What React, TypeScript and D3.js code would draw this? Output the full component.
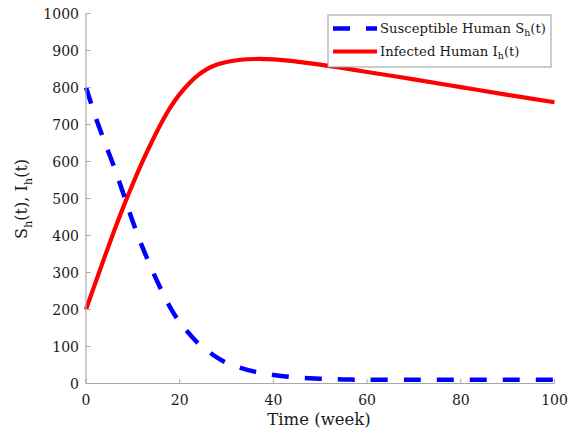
import React from "react";
import * as d3 from "d3";

const timeS = [0, 2, 4, 6, 8, 10, 12, 14, 16, 18, 20, 22, 24, 26, 28, 30, 33, 36, 40, 45, 50, 55, 60, 70, 80, 90, 100];
const susceptible = [800, 722, 652, 585, 512, 437, 370, 310, 255, 205, 165, 135, 108, 88, 70, 56, 42, 32, 23, 16, 13, 11, 10, 10, 10, 10, 10];
const timeI = [0, 2, 4, 6, 8, 10, 12, 14, 16, 18, 20, 22, 24, 26, 28, 30, 33, 36, 40, 45, 50, 55, 60, 70, 80, 90, 100];
const infected = [200, 272, 343, 412, 478, 540, 598, 652, 702, 746, 782, 811, 834, 851, 862, 869, 875, 877, 876, 870, 862, 852, 842, 822, 801, 780, 760];
const xTicks = [0, 20, 40, 60, 80, 100];
const yTicks = [0, 100, 200, 300, 400, 500, 600, 700, 800, 900, 1000];

const W = 570, H = 437;
const M = { left: 86, right: 554.5, top: 13.5, bottom: 383.5 };
const FONT = "'DejaVu Serif', serif";

export default function App() {
  const x = d3.scaleLinear().domain([0, 100]).range([M.left, M.right]);
  const y = d3.scaleLinear().domain([0, 1000]).range([M.bottom, M.top]);
  const line = d3.line<[number, number]>().x(d => x(d[0])).y(d => y(d[1])).curve(d3.curveCatmullRom.alpha(0.5));
  const sPath = line(timeS.map((t, i) => [t, susceptible[i]] as [number, number])) || "";
  const iPath = line(timeI.map((t, i) => [t, infected[i]] as [number, number])) || "";
  const axisColor = "#a8a8a8";
  const textColor = "#1a1a1a";
  return (
    <svg width={W} height={H} style={{ position: "absolute", left: 0, top: 0 }}>
      <rect width={W} height={H} fill="#fff" />
      <path d={iPath} fill="none" stroke="#ff0000" strokeWidth={4.2} />
      <path d={sPath} fill="none" stroke="#0000ff" strokeWidth={4.5} strokeDasharray="17,16" />
      <line x1={M.left} x2={M.left} y1={M.top} y2={M.bottom} stroke={axisColor} strokeWidth={1.2} />
      <line x1={M.left} x2={M.right} y1={M.bottom} y2={M.bottom} stroke={axisColor} strokeWidth={1.2} />
      {yTicks.map(t => (
        <g key={"y" + t}>
          <line x1={M.left} x2={M.left + 4.5} y1={y(t)} y2={y(t)} stroke={axisColor} strokeWidth={1} />
          <text x={M.left - 7} y={y(t)} dy="0.36em" textAnchor="end" fontFamily={FONT} fontSize={14} fill={textColor}>{t}</text>
        </g>
      ))}
      {xTicks.map(t => (
        <g key={"x" + t}>
          <line x1={x(t)} x2={x(t)} y1={M.bottom} y2={M.bottom - 4.5} stroke={axisColor} strokeWidth={1} />
          <text x={x(t)} y={405} textAnchor="middle" fontFamily={FONT} fontSize={14} fill={textColor}>{t}</text>
        </g>
      ))}
      <text x={319} y={425} textAnchor="middle" fontFamily={FONT} fontSize={16.5} fill={textColor}>Time (week)</text>
      <text transform={`translate(27,199) rotate(-90)`} textAnchor="middle" fontFamily={FONT} fontSize={16} fill={textColor}>
        S<tspan fontSize={11.5} dy={4.5}>h</tspan><tspan dy={-4.5}>(t), I</tspan><tspan fontSize={11.5} dy={4.5}>h</tspan><tspan dy={-4.5}>(t)</tspan>
      </text>
      <rect x={328} y={15} width={223} height={52} fill="#fff" stroke="#999" strokeWidth={1} />
      <line x1={333} x2={377} y1={28.5} y2={28.5} stroke="#0000ff" strokeWidth={4.5} strokeDasharray="17,16" />
      <line x1={333} x2={377} y1={51.5} y2={51.5} stroke="#ff0000" strokeWidth={4.2} />
      <text x={380} y={32.5} fontFamily={FONT} fontSize={13.2} fill={textColor}>
        Susceptible Human S<tspan fontSize={9.5} dy={3.5}>h</tspan><tspan dy={-3.5}>(t)</tspan>
      </text>
      <text x={380} y={55.5} fontFamily={FONT} fontSize={13.2} fill={textColor}>
        Infected Human I<tspan fontSize={9.5} dy={3.5}>h</tspan><tspan dy={-3.5}>(t)</tspan>
      </text>
    </svg>
  );
}
